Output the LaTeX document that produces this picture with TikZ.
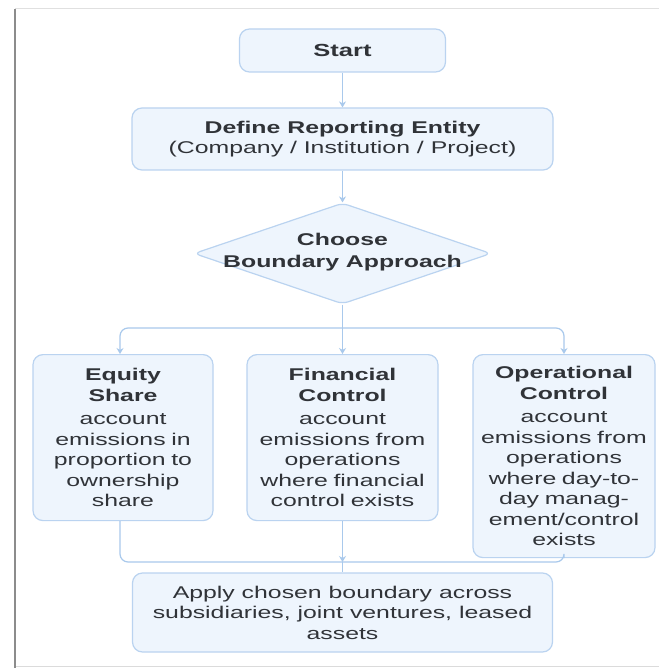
\documentclass[tikz,border=0pt]{standalone}
\usepackage{fontspec}
\setmainfont{Liberation Sans}[FakeStretch=1.46]
\usetikzlibrary{shapes.geometric,arrows.meta}
\definecolor{boxfill}{HTML}{EEF5FD}
\definecolor{boxline}{HTML}{BAD3F0}
\definecolor{arrowc}{HTML}{A9C9EC}
\definecolor{txt}{HTML}{303338}
\begin{document}
\begin{tikzpicture}[x=1pt,y=-1pt,
  box/.style={draw=boxline, fill=boxfill, line width=1.2pt, rounded corners=10pt,
    align=center, text=txt, inner sep=0pt, font=\fontsize{17}{20.5}\selectfont},
  dbox/.style={draw=boxline, fill=boxfill, line width=1.2pt, rounded corners=6pt,
    shape=diamond, inner sep=0pt},
  lbl/.style={align=center, text=txt, inner sep=0pt, font=\fontsize{17}{21.5}\selectfont\bfseries},
  conn/.style={draw=arrowc, line width=1.2pt},
  arr/.style={conn, -{Stealth[length=6pt,width=7pt]}}]
\fill[white] (0,0) rectangle (659,668);
\useasboundingbox (0,0) rectangle (659,668);
% frame of the screenshot
\draw[black!12, line width=1pt] (15,9) -- (659,9);
\draw[black!14, line width=1pt] (15,666) -- (659,666);
\draw[black!45, line width=2pt] (15,9) -- (15,668);

% nodes
\node[box, minimum width=206pt, minimum height=43pt,
  font=\fontsize{17.5}{20}\selectfont\bfseries] (start) at (342.5,50.5) {Start};
\node[box, minimum width=421pt, minimum height=62pt] (def) at (342.5,139)
  {\textbf{Define Reporting Entity}\\(Company / Institution / Project)};
\node[dbox, minimum width=297pt, minimum height=101pt] (dia) at (342.5,253.5) {};
\node[lbl] (diatext) at (342.5,252) {Choose\\Boundary Approach};

\node[box, anchor=north, minimum width=180pt, minimum height=166pt, text width=176pt]
  (eq) at (123,354)
  {\textbf{Equity}\\\textbf{Share}\\[3pt]account\\emissions in\\proportion to\\ownership\\share};
\node[box, anchor=north, minimum width=191pt, minimum height=166pt, text width=187pt]
  (fin) at (342.5,354)
  {\textbf{Financial}\\\textbf{Control}\\[3pt]account\\emissions from\\operations\\where financial\\control exists};
\node[box, anchor=north, minimum width=182pt, minimum height=203pt, text width=178pt]
  (op) at (564,354)
  {\textbf{Operational}\\\textbf{Control}\\[3pt]account\\emissions from\\operations\\where day-to-\\day manag-\\ement/control\\exists};
\node[box, minimum width=420pt, minimum height=79pt] (apply) at (342.5,612.5)
  {Apply chosen boundary across\\subsidiaries, joint ventures, leased\\assets};

% connectors
\coordinate (split) at (342.5,328);
\coordinate (join) at (342.5,562);
\draw[arr] (start) -- (def);
\draw[arr] (def) -- (dia);
\draw[arr] (dia.south) -- (fin.north);
\draw[arr, rounded corners=8pt] (split) -| ([xshift=-3pt]eq.north);
\draw[arr, rounded corners=8pt] (split) -| (op.north);
\draw[conn, rounded corners=8pt] ([xshift=-3pt]eq.south) |- (join) -| (op.south);
\draw[arr] (fin.south) -- (join);
\draw[conn] (join) -- (apply.north);
\end{tikzpicture}
\end{document}
